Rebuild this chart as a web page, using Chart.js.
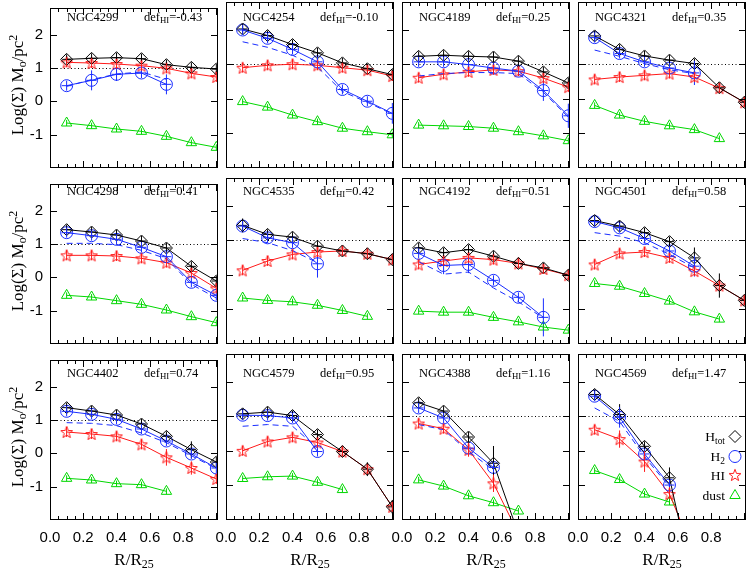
<!DOCTYPE html>
<html>
<head>
<meta charset="utf-8">
<script src="https://cdn.jsdelivr.net/npm/chart.js@4.4.1/dist/chart.umd.min.js"></script>
<style>
html, body { margin: 0; padding: 0; background: #fff; }
#fig { position: relative; width: 747px; height: 570px; overflow: hidden; font-family: 'Liberation Serif', 'Times New Roman', serif; color: #000; }
#fig canvas { position: absolute; }
.lbl { position: absolute; white-space: nowrap; line-height: 1; }
.lbl sub { font-size: 70%; vertical-align: -0.3em; line-height: 0; }
.lbl sup { font-size: 70%; vertical-align: 0.5em; line-height: 0; }
.name, .def { font-size: 12.5px; transform: translateY(-50%); }
.ytitle { font-size: 17px; transform: translate(-50%, -50%) rotate(-90deg); }
.xtitle { font-size: 17px; transform: translate(-50%, -50%); }
.leg { font-size: 13.5px; transform: translate(-100%, -50%); }
</style>
</head>
<body>
<div id="fig"></div>
<script>
// radial bins (R/R25) shared by all galaxies
const radii = [0.1, 0.25, 0.4, 0.55, 0.7, 0.85, 1.0];
const galaxies = ['NGC4299', 'NGC4254', 'NGC4189', 'NGC4321', 'NGC4298', 'NGC4535',
                  'NGC4192', 'NGC4501', 'NGC4402', 'NGC4579', 'NGC4388', 'NGC4569'];
const defHI = ['-0.43', '-0.10', '0.25', '0.35', '0.41', '0.42', '0.51', '0.58', '0.74', '0.95', '1.16', '1.47'];
const xTickLabels = ['0.0', '0.2', '0.4', '0.6', '0.8'];
const yTickLabels = ['-1', '0', '1', '2'];

// log surface densities, one list per galaxy
const hTot = [
    [1.26, 1.29, 1.31, 1.28, 1.10, 1.02, 0.97],
    [2.02, 1.83, 1.57, 1.33, 1.04, 0.87, 0.70],
    [1.23, 1.26, 1.23, 1.21, 1.09, 0.78, 0.46],
    [1.82, 1.43, 1.24, 1.12, 1.02, 0.32, -0.10],
    [1.43, 1.36, 1.27, 1.09, 0.88, 0.33, -0.11],
    [1.43, 1.17, 1.09, 0.83, 0.69, 0.61, 0.44],
    [0.78, 0.64, 0.73, 0.54, 0.33, 0.20, -0.01],
    [1.57, 1.41, 1.22, 0.96, 0.49, -0.31, -0.74],
    [1.37, 1.27, 1.15, 0.88, 0.51, 0.11, -0.26],
    [1.07, 1.12, 1.02, 0.47, -0.02, -0.53, -1.62],
    [1.39, 1.15, 0.40, -0.36, -2.4],
    [1.63, 1.05, 0.13, -0.78, -4.0]
];
const h2 = [
    [0.47, 0.63, 0.81, 0.85, 0.51],
    [1.99, 1.75, 1.43, 1.07, 0.27, -0.07, -0.42],
    [1.07, 1.07, 0.99, 0.89, 0.80, 0.24, -0.49],
    [1.77, 1.31, 1.07, 0.89, 0.75],
    [1.34, 1.25, 1.14, 0.90, 0.62, -0.15, -0.54],
    [1.41, 1.07, 0.93, 0.32],
    [0.62, 0.27, 0.30, -0.16, -0.65, -1.23],
    [1.54, 1.36, 1.05, 0.69, 0.25],
    [1.26, 1.17, 1.02, 0.73, 0.37, -0.02, -0.44],
    [1.03, 1.02, 0.95, -0.02],
    [1.24, 0.95, 0.08, -0.48],
    [1.58, 0.97, -0.09, -0.99]
];
// H2 with the alternative conversion factor (dashed)
const h2Alt = [
    [0.45, 0.65, 0.82, 0.88, 0.66],
    [1.65, 1.49, 1.26, 0.92, 0.21, -0.10, -0.44],
    [0.66, 0.73, 0.76, 0.76, 0.73, 0.19, -0.53],
    [1.41, 1.23, 1.02, 0.84, 0.73],
    [1.02, 1.02, 0.98, 0.81, 0.56, -0.21, -0.62],
    [1.05, 0.93, 0.70, 0.35],
    [0.38, 0.02, 0.08, -0.38, -0.78, -1.25],
    [1.22, 1.12, 0.93, 0.59, 0.20],
    [0.92, 0.90, 0.83, 0.61, 0.32, -0.07, -0.46],
    [0.71, 0.76, 0.71, 0.08],
    [0.76, 0.61, -0.02, -0.55],
    [1.24, 0.85, -0.17, -1.04]
];
const hI = [
    [1.17, 1.15, 1.12, 1.07, 0.99, 0.84, 0.73],
    [0.90, 0.97, 1.00, 0.97, 0.90, 0.83, 0.66],
    [0.61, 0.71, 0.78, 0.84, 0.80, 0.60, 0.34],
    [0.56, 0.63, 0.68, 0.73, 0.63, 0.31, -0.10],
    [0.66, 0.66, 0.64, 0.57, 0.44, 0.13, -0.33],
    [0.13, 0.40, 0.59, 0.66, 0.69, 0.61, 0.44],
    [0.30, 0.40, 0.49, 0.44, 0.33, 0.17, -0.01],
    [0.30, 0.62, 0.66, 0.49, 0.11, -0.31, -0.74],
    [0.64, 0.58, 0.51, 0.27, -0.12, -0.44, -0.77],
    [0.00, 0.27, 0.39, 0.24, -0.02, -0.53, -1.62],
    [0.79, 0.64, 0.03, -0.94, -2.4],
    [0.61, 0.34, -0.31, -1.25, -3.0]
];
const dust = [
    [-0.65, -0.73, -0.83, -0.90, -1.05, -1.24, -1.38],
    [-0.08, -0.24, -0.47, -0.66, -0.85, -0.95, -1.04],
    [-0.76, -0.78, -0.80, -0.85, -0.95, -1.07, -1.21],
    [-0.19, -0.47, -0.65, -0.78, -0.89, -1.15],
    [-0.54, -0.59, -0.70, -0.81, -0.98, -1.18, -1.36],
    [-0.67, -0.74, -0.78, -0.88, -1.03, -1.20],
    [-1.05, -1.08, -1.08, -1.23, -1.36, -1.51, -1.60],
    [-0.25, -0.33, -0.54, -0.76, -1.07, -1.28],
    [-0.75, -0.80, -0.91, -0.94, -1.14],
    [-0.80, -0.75, -0.73, -0.91, -1.12],
    [-0.84, -1.02, -1.30, -1.50, -1.74],
    [-0.57, -0.83, -1.25, -1.48]
];

// error bars (+/- dex), 0 = smaller than the symbol
const hTotErr = [
    [0, 0, 0, 0, 0, 0, 0],
    [0, 0, 0, 0, 0, 0, 0.15],
    [0, 0, 0, 0, 0, 0, 0],
    [0.15, 0, 0, 0, 0, 0, 0],
    [0, 0, 0, 0, 0, 0, 0.15],
    [0.2, 0, 0, 0, 0, 0, 0],
    [0, 0, 0, 0, 0, 0, 0],
    [0, 0, 0, 0, 0.3, 0.35, 0],
    [0, 0, 0, 0, 0, 0.25, 0],
    [0.15, 0.15, 0, 0, 0, 0.2, 0.2],
    [0, 0, 0, 0.5, 0],
    [0, 0.3, 0, 0.3, 0]
];
const h2Err = [
    [0.05, 0.3, 0.2, 0.1, 0.3],
    [0, 0, 0, 0, 0, 0, 0.3],
    [0, 0, 0, 0.15, 0, 0.3, 0.35],
    [0, 0, 0, 0, 0.35],
    [0, 0, 0, 0, 0, 0.15, 0],
    [0, 0, 0.15, 0.4],
    [0, 0.25, 0.25, 0, 0, 0.55],
    [0, 0, 0, 0, 0.3],
    [0, 0, 0, 0, 0.15, 0, 0],
    [0, 0, 0, 0],
    [0, 0, 0.1, 0],
    [0, 0.3, 0, 0]
];
const hIErr = [
    [0, 0, 0, 0, 0, 0, 0],
    [0, 0, 0, 0, 0, 0.1, 0],
    [0, 0, 0, 0, 0, 0, 0],
    [0, 0, 0, 0, 0, 0, 0],
    [0, 0, 0, 0, 0, 0, 0],
    [0, 0, 0, 0, 0, 0, 0],
    [0, 0, 0, 0, 0, 0, 0],
    [0.15, 0, 0, 0, 0, 0, 0],
    [0, 0, 0, 0, 0.25, 0.2, 0],
    [0, 0, 0, 0, 0, 0, 0],
    [0, 0, 0.2, 0.25, 0],
    [0, 0.25, 0.3, 0.2, 0]
];

const BLUE = 'rgb(25,45,255)';
const RED = 'rgb(255,25,25)';
const GREEN = 'rgb(0,215,0)';

const colLeft = [50, 226, 402, 578];
const rowTop = [2, 178, 354];
const PW = 168, PH = 166;
const PAD_L = 50, PAD_T = 10, PAD_R = 10, AX_B = 30;
const nameDy = [14.6, 12.6, 18.6];

Chart.defaults.font.family = "'Liberation Sans', Arial, sans-serif";
Chart.defaults.color = '#000';

const makeStar = (color) => {
    const c = document.createElement('canvas');
    c.width = 14; c.height = 14;
    const g = c.getContext('2d');
    g.strokeStyle = color;
    g.lineWidth = 1;
    g.beginPath();
    for (let k = 0; k < 10; k++) {
        const r = k % 2 ? 2.6 : 6.2;
        const a = -Math.PI / 2 + k * Math.PI / 5;
        const px = 7 + r * Math.cos(a), py = 7.6 + r * Math.sin(a);
        if (k) g.lineTo(px, py); else g.moveTo(px, py);
    }
    g.closePath();
    g.stroke();
    return c;
};
const starImg = makeStar(RED);

const pts = (vals) => vals.map((v, i) => ({ x: radii[i], y: v }));

const fig = document.getElementById('fig');
const addLabel = (cls, html, left, top) => {
    const d = document.createElement('div');
    d.className = 'lbl ' + cls;
    d.innerHTML = html;
    d.style.left = left + 'px';
    d.style.top = top + 'px';
    fig.appendChild(d);
};

const panelDecor = {
    id: 'panelDecor',
    beforeDatasetsDraw(chart) {
        // dotted reference line at log = 1
        const { ctx, chartArea: a, scales: { y } } = chart;
        const py = Math.round(y.getPixelForValue(1)) + 0.5;
        ctx.save();
        ctx.strokeStyle = '#000';
        ctx.lineWidth = 1;
        ctx.setLineDash([1, 2.5]);
        ctx.beginPath();
        ctx.moveTo(a.left, py);
        ctx.lineTo(a.right, py);
        ctx.stroke();
        ctx.restore();
    },
    afterDatasetsDraw(chart) {
        // error bars / crosses through the symbols
        const { ctx, chartArea: a, scales: { x, y } } = chart;
        ctx.save();
        ctx.beginPath();
        ctx.rect(a.left, a.top, a.right - a.left, a.bottom - a.top);
        ctx.clip();
        ctx.lineWidth = 1;
        chart.data.datasets.forEach(ds => {
            if (!ds.crossV) return;
            ctx.strokeStyle = ds.borderColor;
            ds.data.forEach((p, i) => {
                const px = x.getPixelForValue(p.x), py = y.getPixelForValue(p.y);
                const err = ds.errs ? ds.errs[i] : 0;
                const e = Math.max(Math.abs(y.getPixelForValue(p.y + err) - py), ds.crossV);
                ctx.beginPath();
                ctx.moveTo(px, py - e);
                ctx.lineTo(px, py + e);
                if (ds.crossH) {
                    ctx.moveTo(px - ds.crossH, py);
                    ctx.lineTo(px + ds.crossH, py);
                }
                ctx.stroke();
            });
        });
        ctx.restore();
    },
    afterDraw(chart) {
        // frame and inward ticks (gnuplot style)
        const { ctx, chartArea: a, scales: { x, y } } = chart;
        ctx.save();
        ctx.strokeStyle = '#000';
        ctx.lineWidth = 1;
        ctx.strokeRect(a.left + 0.5, a.top + 0.5, a.right - a.left - 1, a.bottom - a.top - 1);
        ctx.beginPath();
        for (let k = 1; k <= 20; k++) {
            const px = Math.round(x.getPixelForValue(k * 0.05)) + 0.5;
            const len = k % 4 === 0 ? 7 : 4;
            ctx.moveTo(px, a.bottom); ctx.lineTo(px, a.bottom - len);
            ctx.moveTo(px, a.top); ctx.lineTo(px, a.top + len);
        }
        yTickLabels.forEach(t => {
            const py = Math.round(y.getPixelForValue(Number(t))) + 0.5;
            ctx.moveTo(a.left, py); ctx.lineTo(a.left + 7, py);
            ctx.moveTo(a.right, py); ctx.lineTo(a.right - 7, py);
        });
        ctx.stroke();

        const leg = chart.options.plugins.panelDecor.legendRows;
        if (leg) {
            const lx = a.left + 157;
            leg.forEach((row, j) => {
                const ly = a.top + row;
                if (j === 2) {
                    ctx.drawImage(starImg, lx - 7, ly - 7.6);
                    return;
                }
                const style = ['rectRot', 'circle', null, 'triangle'][j];
                const col = ['#000', BLUE, null, GREEN][j];
                ctx.strokeStyle = col;
                ctx.fillStyle = 'rgba(0,0,0,0)';
                Chart.helpers.drawPoint(ctx, { pointStyle: style, radius: 6, rotation: 0, borderWidth: 1 }, lx, ly);
            });
        }
        ctx.restore();
    }
};

const initPanel = (g) => {
    const r = Math.floor(g / 4), c = g % 4;
    const canvas = document.createElement('canvas');
    canvas.width = PAD_L + PW + PAD_R;
    canvas.height = PAD_T + PH + AX_B;
    canvas.style.left = (colLeft[c] - PAD_L) + 'px';
    canvas.style.top = (rowTop[r] - PAD_T) + 'px';
    fig.appendChild(canvas);

    const common = { borderWidth: 1, pointBorderWidth: 1, pointBackgroundColor: 'rgba(0,0,0,0)', tension: 0, fill: false };

    new Chart(canvas, {
        type: 'line',
        data: {
            datasets: [
                { ...common, data: pts(hTot[g]), errs: hTotErr[g], borderColor: '#000', pointBorderColor: '#000',
                  pointStyle: 'rectRot', pointRadius: 6, crossV: 5, crossH: 4.5 },
                { ...common, data: pts(h2[g]), errs: h2Err[g], borderColor: BLUE, pointBorderColor: BLUE,
                  pointStyle: 'circle', pointRadius: 6, crossV: 5, crossH: 5 },
                { ...common, data: pts(h2Alt[g]), borderColor: BLUE, borderDash: [6, 4], pointRadius: 0 },
                { ...common, data: pts(hI[g]), errs: hIErr[g], borderColor: RED, pointBorderColor: RED,
                  pointStyle: starImg, pointRadius: 6, crossV: 5 },
                { ...common, data: pts(dust[g]), borderColor: GREEN, pointBorderColor: GREEN,
                  pointStyle: 'triangle', pointRadius: 6, crossV: 3 }
            ]
        },
        options: {
            responsive: false,
            animation: false,
            events: [],
            layout: { padding: { left: 0, top: PAD_T, right: PAD_R, bottom: 0 } },
            plugins: {
                legend: { display: false },
                tooltip: { enabled: false },
                panelDecor: { legendRows: g === 11 ? [82.5, 102.5, 121.5, 141.5] : null }
            },
            scales: {
                x: {
                    type: 'linear', min: 0, max: 1.01,
                    grid: { display: false, drawTicks: false },
                    border: { display: false },
                    ticks: {
                        display: r === 2, stepSize: 0.2, includeBounds: false, padding: 9,
                        autoSkip: false, maxRotation: 0, font: { size: 15 },
                        callback: (v) => xTickLabels.find(t => Math.abs(Number(t) - v) < 1e-6) || ''
                    },
                    afterFit: (s) => { s.height = AX_B; }
                },
                y: {
                    type: 'linear', min: -2, max: 2.8,
                    grid: { display: false, drawTicks: false },
                    border: { display: false },
                    ticks: {
                        display: c === 0, stepSize: 1, includeBounds: false, padding: 7,
                        font: { size: 15 },
                        callback: (v) => yTickLabels.find(t => Number(t) === v) || ''
                    },
                    afterFit: (s) => { s.width = PAD_L; }
                }
            }
        },
        plugins: [panelDecor]
    });

    addLabel('name', galaxies[g], colLeft[c] + 17, rowTop[r] + nameDy[r]);
    addLabel('def', 'def<sub>HI</sub>=' + defHI[g], colLeft[c] + 94, rowTop[r] + nameDy[r]);
};

galaxies.forEach((name, g) => initPanel(g));

rowTop.forEach(t => addLabel('ytitle', 'Log(&Sigma;) M<sub>o</sub>/pc<sup>2</sup>', 17, t + PH / 2));
colLeft.forEach(l => addLabel('xtitle', 'R/R<sub>25</sub>', l + PW / 2, 559));

const legendNames = ['H<sub>tot</sub>', 'H<sub>2</sub>', 'HI', 'dust'];
const legendY = [437, 457, 476, 496];
legendNames.forEach((t, j) => addLabel('leg', t, 725, legendY[j]));
</script>
</body>
</html>
